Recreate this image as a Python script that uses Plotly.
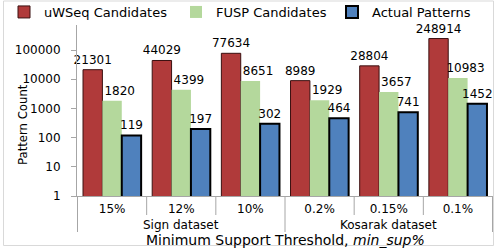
import plotly.graph_objects as go

datasets = ["Sign dataset", "Kosarak dataset"]
thresholds = ["15%", "12%", "10%", "0.2%", "0.15%", "0.1%"]
uwseq = [21301, 44029, 77634, 8989, 28804, 248914]
fusp = [1820, 4399, 8651, 1929, 3657, 10983]
actual = [119, 197, 302, 464, 741, 1452]

W, H = 498, 249
ML, MR, MT, MB = 77, 5, 25, 53
PW, PH = W - ML - MR, H - MT - MB

def px(x):
    return (x - ML) / PW

def py(y):
    return (H - MB - y) / PH

font = "DejaVu Sans"
GRAY = "#A6A6A6"
NB = "\u00a0"

fig = go.Figure()
fig.add_trace(go.Bar(x=thresholds, y=uwseq, name="uWSeq Candidates", legend="legend",
                     marker=dict(color="#B03A3A", line=dict(color="#3a1010", width=1)),
                     text=[str(v) for v in uwseq]))
fig.add_trace(go.Bar(x=thresholds, y=fusp, name="FUSP Candidates", legend="legend2",
                     marker=dict(color="#B4D89C", line=dict(width=0)),
                     text=[NB * 4 + str(v) for v in fusp]))
fig.add_trace(go.Bar(x=thresholds, y=actual, name="Actual Patterns", legend="legend3",
                     marker=dict(color="#4F81BD", line=dict(color="#000000", width=2)),
                     text=[str(v) for v in actual]))

fig.update_traces(textposition="outside", cliponaxis=False, constraintext="none",
                  textfont=dict(family=font, size=12, color="#000000"))

def leg(text_left):
    return dict(orientation="h", x=(text_left - 36) / W, xanchor="left", xref="container",
                y=1 - 12 / H, yanchor="middle", yref="container",
                font=dict(family=font, size=13), itemwidth=30,
                bgcolor="rgba(0,0,0,0)", borderwidth=0)

fig.update_layout(
    width=W, height=H,
    margin=dict(l=ML, r=MR, t=MT, b=MB, autoexpand=False),
    paper_bgcolor="white", plot_bgcolor="white",
    barmode="group", bargap=0.16, bargroupgap=0,
    font=dict(family=font, size=12, color="#000000"),
    showlegend=True,
    legend=leg(40), legend2=leg(212), legend3=leg(368),
    xaxis=dict(type="category", showline=True, linecolor=GRAY, linewidth=1,
               ticks="", automargin=False, ticklabelstandoff=2,
               tickfont=dict(family=font, size=12)),
    yaxis=dict(type="log", range=[0, 5.86], showline=True, linecolor=GRAY, linewidth=1,
               ticks="outside", ticklen=5, tickcolor=GRAY, showgrid=False,
               automargin=False, ticklabelstandoff=8,
               tickvals=[1, 10, 100, 1000, 10000, 100000],
               ticktext=["1", "10", "100", "1000", "10000", "100000"],
               tickfont=dict(family=font, size=12)),
)

# category dividers (inner short, outer long)
n = len(thresholds)
for k in range(n + 1):
    outer = k % 3 == 0
    fig.add_shape(type="line", xref="x", yref="paper",
                  x0=k - 0.5, x1=k - 0.5, y0=0, y1=py(232 if outer else 215),
                  line=dict(color=GRAY, width=1))

# dataset group labels centered under the middle category of each group
for g, name in enumerate(datasets):
    fig.add_annotation(text=name, x=thresholds[g * 3 + 1], xref="x",
                       y=py(225), yref="paper", yanchor="middle", showarrow=False,
                       font=dict(family=font, size=12, color="#000000"))

# axis titles
fig.add_annotation(text="Minimum Support Threshold, <i>min_sup%</i>",
                   x=px(285), xref="paper", y=py(240), yref="paper",
                   yanchor="middle", showarrow=False,
                   font=dict(family=font, size=14, color="#000000"))
fig.add_annotation(text="Pattern Count", textangle=-90,
                   x=px(22), xref="paper", y=py(125), yref="paper",
                   xanchor="center", yanchor="middle", showarrow=False,
                   font=dict(family="Liberation Sans Narrow, DejaVu Sans Condensed", size=13,
                             color="#000000"))

fig.add_shape(type="rect", xref="paper", yref="paper",
              x0=px(3.5), x1=px(493.5), y0=py(245.5), y1=py(1),
              line=dict(color="#D9D9D9", width=1), fillcolor="rgba(0,0,0,0)", layer="below")

fig.write_html("out.html", config={"displayModeBar": False},
               post_script="document.body.style.margin='0';document.body.style.overflow='hidden';")
